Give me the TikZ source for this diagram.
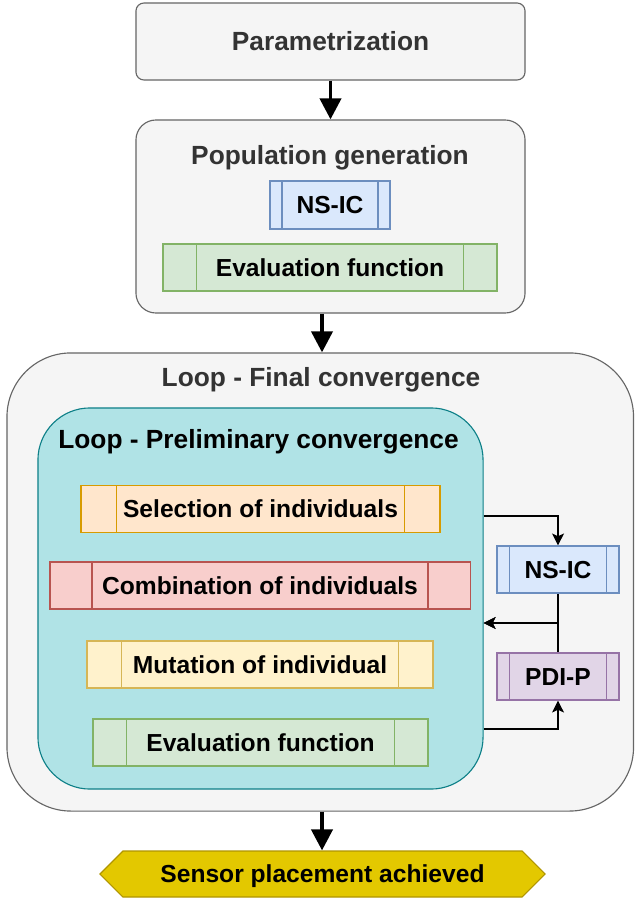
\documentclass[tikz,border=0pt]{standalone}
\usepackage{fontspec}
\setmainfont{Liberation Sans}
\usetikzlibrary{arrows.meta,calc,shapes.symbols}
\pgfdeclarelayer{boxlayer}
\pgfdeclarelayer{edgelayer}
\pgfdeclarelayer{nodelayer}
\pgfsetlayers{boxlayer,edgelayer,nodelayer,main}
\definecolor{boxgray}{HTML}{F5F5F5}
\definecolor{linegray}{HTML}{666666}
\definecolor{textgray}{HTML}{333333}
\definecolor{lblue}{HTML}{DAE8FC}
\definecolor{dblue}{HTML}{6C8EBF}
\definecolor{lgreen}{HTML}{D5E8D4}
\definecolor{dgreen}{HTML}{82B366}
\definecolor{lorange}{HTML}{FFE6CC}
\definecolor{dorange}{HTML}{D79B00}
\definecolor{lred}{HTML}{F8CECC}
\definecolor{dred}{HTML}{B85450}
\definecolor{lyellow}{HTML}{FFF2CC}
\definecolor{dyellow}{HTML}{D6B656}
\definecolor{lpurple}{HTML}{E1D5E7}
\definecolor{dpurple}{HTML}{9673A6}
\definecolor{lteal}{HTML}{B0E3E6}
\definecolor{dteal}{HTML}{0E8088}
\definecolor{lgold}{HTML}{E3C800}
\definecolor{dgold}{HTML}{B09500}
\newcommand{\headfont}{\fontsize{18.7}{22}\selectfont\bfseries}
\newcommand{\stepfont}{\fontsize{17.5}{21}\selectfont\bfseries}
\tikzstyle{stage}=[rectangle,draw=linegray,fill=boxgray,line width=0.8pt,inner sep=0pt]
\tikzstyle{heading}=[font=\headfont,text=textgray,inner sep=0pt,text height=13.1pt,text depth=0pt]
\tikzstyle{bigarrow}=[-{Triangle[length=15pt,width=15pt]},line width=2.8pt]
\tikzstyle{smallarrow}=[-{Stealth[length=8.5pt,width=8.5pt,inset=2pt]},line width=0.8pt]
\tikzstyle{goalbox}=[signal,signal to=west and east,signal pointer angle=90,fill=lgold,draw=dgold,
  line width=0.8pt,inner sep=0pt,font=\stepfont,text height=12.3pt,text depth=0pt]
\tikzset{procbox/.style 2 args={rectangle,fill=#1,draw=#2,line width=0.8pt,inner sep=0pt,
  minimum height=1.175cm,font=\stepfont,text height=12.3pt,text depth=0pt,
  path picture={\draw[#2,line width=0.8pt]
    ($(path picture bounding box.north west)!0.1!(path picture bounding box.north east)$) --
    ($(path picture bounding box.south west)!0.1!(path picture bounding box.south east)$)
    ($(path picture bounding box.north east)!0.1!(path picture bounding box.north west)$) --
    ($(path picture bounding box.south east)!0.1!(path picture bounding box.south west)$);}}}

\begin{document}
\begin{tikzpicture}[x=0.025cm,y=-0.025cm]
	\useasboundingbox (0,0) rectangle (634,898);
	\begin{pgfonlayer}{boxlayer}
		\node [style=stage,rounded corners=0.2cm,minimum width=9.725cm,minimum height=1.925cm,
			font=\headfont,text=textgray,text height=13.1pt,text depth=0pt] (param) at (330.5,41.5) {Parametrization};
		\node [style=stage,rounded corners=0.5cm,minimum width=9.725cm,minimum height=4.825cm] (popgen) at (330.5,216.5) {};
		\node [style=stage,rounded corners=1.6cm,minimum width=15.66cm,minimum height=11.45cm] (outer) at (320.25,582) {};
		\node [style=stage,fill=lteal,draw=dteal,rounded corners=1.3cm,minimum width=11.125cm,minimum height=9.525cm] (prelim) at (260.5,598.5) {};
	\end{pgfonlayer}
	\begin{pgfonlayer}{nodelayer}
		\node [style=heading] (popgentitle) at (330,155) {Population generation};
		\node [procbox={lblue}{dblue},minimum width=3cm,minimum height=1.2cm] (nsic1) at (330,205) {NS-IC};
		\node [procbox={lgreen}{dgreen},minimum width=8.35cm] (eval1) at (330,267.5) {Evaluation function};
		\node [style=heading] (finaltitle) at (321,377) {Loop - Final convergence};
		\node [style=heading,text=black] (prelimtitle) at (258.5,439) {Loop - Preliminary convergence};
		\node [procbox={lorange}{dorange},minimum width=8.975cm] (select) at (260.5,509) {Selection of individuals};
		\node [procbox={lred}{dred},minimum width=10.5cm] (combine) at (260,585.5) {Combination of individuals};
		\node [procbox={lyellow}{dyellow},minimum width=8.65cm] (mutate) at (260,664.5) {Mutation of individual};
		\node [procbox={lgreen}{dgreen},minimum width=8.375cm] (eval2) at (260.5,742.5) {Evaluation function};
		\node [procbox={lblue}{dblue},minimum width=3.05cm] (nsic2) at (558,569.5) {NS-IC};
		\node [procbox={lpurple}{dpurple},minimum width=3.05cm] (pdip) at (558,676.5) {PDI-P};
		\node [style=goalbox,minimum width=11.125cm,minimum height=1.15cm] (goal) at (322.5,874) {Sensor placement achieved};
	\end{pgfonlayer}
	\begin{pgfonlayer}{edgelayer}
		\coordinate (loopout) at (prelim.east |- 0,516);
		\coordinate (loopback) at (prelim.east |- 0,623);
		\coordinate (loopcheck) at (prelim.east |- 0,729);
		\draw [style=bigarrow] (param) to (popgen);
		\draw [style=bigarrow] (popgen.south -| 322,0) to (outer.north -| 322,0);
		\draw [style=bigarrow] (outer.south -| 322,0) to (goal.north -| 322,0);
		\draw [style=smallarrow] (loopout) -| (nsic2.north);
		\draw [style=smallarrow] (nsic2.south) |- (loopback);
		\draw [style=smallarrow] (pdip.north) |- (loopback);
		\draw [style=smallarrow] (loopcheck) -| (pdip.south);
	\end{pgfonlayer}
\end{tikzpicture}
\end{document}
